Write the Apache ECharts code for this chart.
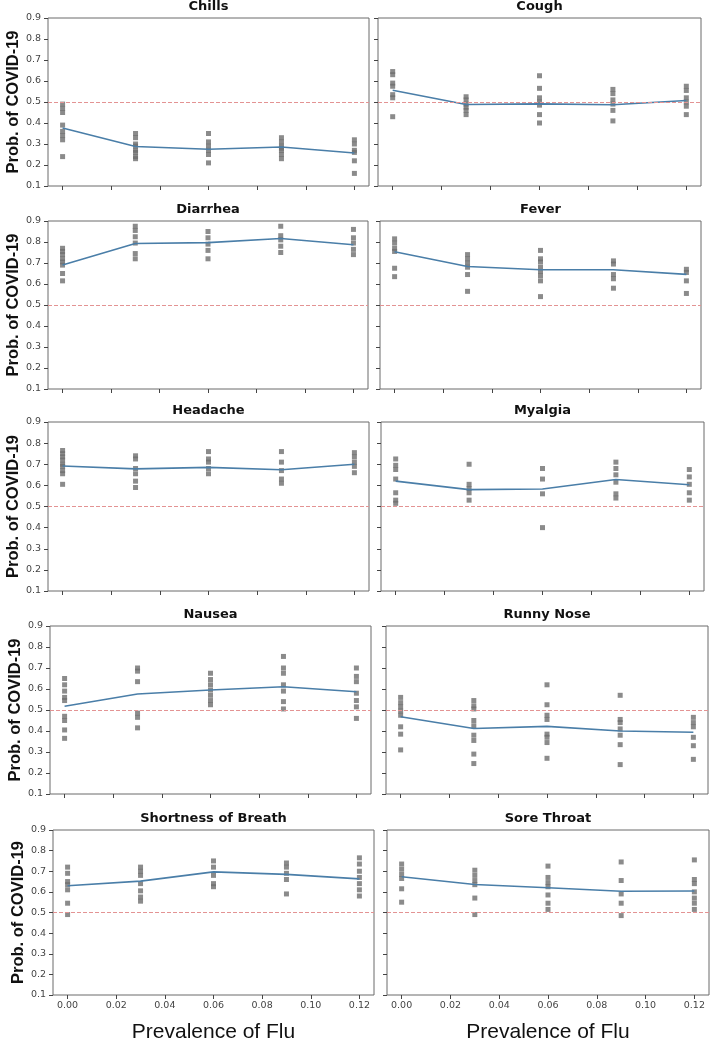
<!DOCTYPE html>
<html><head><meta charset="utf-8">
<script src="https://cdn.jsdelivr.net/npm/echarts@6/dist/echarts.min.js"></script>
<style>html,body{margin:0;padding:0;background:#fff}#c{width:716px;height:1044px}</style>
</head><body><div id="c"></div><script>
// ---------------- data ----------------
const xValues = [0, 0.03, 0.06, 0.09, 0.12];
const xTicks = [0, 0.02, 0.04, 0.06, 0.08, 0.10, 0.12];
const yMin = 0.1, yMax = 0.9, yStep = 0.1;
const threshold = 0.5;

const symptoms = ['Chills', 'Cough', 'Diarrhea', 'Fever', 'Headache', 'Myalgia', 'Nausea', 'Runny Nose', 'Shortness of Breath', 'Sore Throat'];

const chillsPoints = [[0.49, 0.47, 0.45, 0.39, 0.36, 0.34, 0.32, 0.24], [0.35, 0.33, 0.30, 0.29, 0.27, 0.26, 0.24, 0.23], [0.35, 0.31, 0.29, 0.27, 0.25, 0.21], [0.33, 0.31, 0.29, 0.28, 0.27, 0.25, 0.23], [0.32, 0.30, 0.27, 0.26, 0.22, 0.16]];
const chillsMean = [0.376, 0.288, 0.275, 0.286, 0.257];

const coughPoints = [[0.645, 0.63, 0.59, 0.575, 0.535, 0.52, 0.43], [0.525, 0.51, 0.49, 0.475, 0.46, 0.44], [0.625, 0.565, 0.52, 0.50, 0.485, 0.44, 0.40], [0.56, 0.54, 0.51, 0.49, 0.46, 0.41], [0.575, 0.555, 0.52, 0.50, 0.48, 0.44]];
const coughMean = [0.556, 0.488, 0.491, 0.487, 0.507];

const diarrheaPoints = [[0.77, 0.755, 0.74, 0.72, 0.705, 0.69, 0.65, 0.615], [0.875, 0.855, 0.825, 0.795, 0.745, 0.72], [0.85, 0.82, 0.79, 0.76, 0.72], [0.875, 0.83, 0.81, 0.78, 0.75], [0.86, 0.82, 0.795, 0.765, 0.74]];
const diarrheaMean = [0.69, 0.793, 0.797, 0.817, 0.787];

const feverPoints = [[0.815, 0.795, 0.77, 0.755, 0.675, 0.635], [0.74, 0.72, 0.70, 0.68, 0.645, 0.565], [0.76, 0.72, 0.705, 0.68, 0.66, 0.64, 0.615, 0.54], [0.71, 0.695, 0.645, 0.625, 0.58], [0.67, 0.655, 0.615, 0.555]];
const feverMean = [0.754, 0.683, 0.668, 0.668, 0.646];

const headachePoints = [[0.765, 0.75, 0.735, 0.72, 0.70, 0.69, 0.67, 0.655, 0.605], [0.74, 0.725, 0.68, 0.655, 0.62, 0.59], [0.76, 0.725, 0.71, 0.68, 0.655], [0.76, 0.71, 0.67, 0.63, 0.61], [0.755, 0.735, 0.71, 0.69, 0.66]];
const headacheMean = [0.692, 0.678, 0.685, 0.674, 0.70];

const myalgiaPoints = [[0.725, 0.695, 0.675, 0.63, 0.565, 0.53, 0.515], [0.70, 0.605, 0.585, 0.565, 0.53], [0.68, 0.63, 0.56, 0.40], [0.71, 0.68, 0.65, 0.615, 0.56, 0.54], [0.675, 0.64, 0.605, 0.565, 0.53]];
const myalgiaMean = [0.62, 0.58, 0.583, 0.628, 0.603];

const nauseaPoints = [[0.65, 0.62, 0.59, 0.56, 0.545, 0.47, 0.45, 0.405, 0.365], [0.70, 0.685, 0.635, 0.485, 0.465, 0.415], [0.675, 0.645, 0.62, 0.595, 0.57, 0.545, 0.525], [0.755, 0.70, 0.675, 0.62, 0.59, 0.54, 0.505], [0.70, 0.66, 0.635, 0.58, 0.545, 0.515, 0.46]];
const nauseaMean = [0.518, 0.576, 0.595, 0.611, 0.587];

const runnyNosePoints = [[0.56, 0.535, 0.515, 0.495, 0.475, 0.42, 0.385, 0.31], [0.545, 0.52, 0.505, 0.45, 0.425, 0.38, 0.355, 0.29, 0.245], [0.62, 0.525, 0.475, 0.455, 0.385, 0.37, 0.345, 0.27], [0.57, 0.455, 0.44, 0.41, 0.38, 0.335, 0.24], [0.465, 0.44, 0.42, 0.37, 0.33, 0.265]];
const runnyNoseMean = [0.468, 0.412, 0.422, 0.40, 0.394];

const breathPoints = [[0.72, 0.69, 0.65, 0.635, 0.61, 0.545, 0.49], [0.72, 0.70, 0.68, 0.64, 0.605, 0.575, 0.555], [0.75, 0.72, 0.68, 0.64, 0.625], [0.74, 0.72, 0.69, 0.66, 0.59], [0.765, 0.735, 0.70, 0.67, 0.64, 0.61, 0.58]];
const breathMean = [0.63, 0.652, 0.697, 0.685, 0.663];

const throatPoints = [[0.735, 0.71, 0.685, 0.665, 0.615, 0.55], [0.705, 0.68, 0.655, 0.635, 0.57, 0.49], [0.725, 0.67, 0.645, 0.625, 0.585, 0.545, 0.515], [0.745, 0.655, 0.59, 0.545, 0.485], [0.755, 0.66, 0.64, 0.60, 0.57, 0.545, 0.515]];
const throatMean = [0.673, 0.636, 0.62, 0.603, 0.604];

const allPoints = [chillsPoints, coughPoints, diarrheaPoints, feverPoints, headachePoints, myalgiaPoints, nauseaPoints, runnyNosePoints, breathPoints, throatPoints];
const allMeans = [chillsMean, coughMean, diarrheaMean, feverMean, headacheMean, myalgiaMean, nauseaMean, runnyNoseMean, breathMean, throatMean];

const yTitle = 'Prob. of COVID-19';
const xTitle = 'Prevalence of Flu';

// ---------------- layout ----------------
const rows = [
  {top: 18,  h: 168, left: [48, 321], right: [378, 323]},
  {top: 221, h: 168, left: [48, 320], right: [380, 321]},
  {top: 422, h: 169, left: [48, 321], right: [381, 323]},
  {top: 626, h: 168, left: [50, 321], right: [386, 322]},
  {top: 830, h: 169, left: [53, 321], right: [387, 322]}
];

const option = {animation: false, backgroundColor: '#fff', title: [], grid: [], xAxis: [], yAxis: [], series: []};

symptoms.forEach((name, i) => {
  const row = Math.floor(i / 2), col = i % 2;
  const R = rows[row];
  const [gl, gw] = col === 0 ? R.left : R.right;
  const isBottom = row === 4, isLeft = col === 0;
  option.grid.push({left: gl, top: R.top, width: gw, height: R.h, show: true, borderColor: '#6b6b6b', borderWidth: 1, backgroundColor: 'transparent'});
  option.title.push({text: name, left: gl + gw / 2, top: R.top - 18, textAlign: 'center', padding: 0,
    textStyle: {fontFamily: 'DejaVu Sans', fontWeight: 'bold', fontSize: 13, color: '#111'}});
  option.xAxis.push({
    type: 'value', gridIndex: i, min: -0.006, max: 0.126,
    axisLine: {show: false, onZero: false}, splitLine: {show: false},
    axisTick: {show: true, customValues: xTicks, length: 4, lineStyle: {color: '#444'}},
    axisLabel: {show: isBottom, customValues: xTicks, formatter: v => v.toFixed(2), fontFamily: 'DejaVu Sans', fontSize: 9.5, color: '#444', margin: 6},
    name: isBottom ? xTitle : '', nameLocation: 'middle', nameGap: 27,
    nameTextStyle: {fontFamily: 'Liberation Sans', fontSize: 21, color: '#111'}
  });
  option.yAxis.push({
    type: 'value', gridIndex: i, min: yMin, max: yMax, interval: yStep,
    axisLine: {show: false, onZero: false}, splitLine: {show: false},
    axisTick: {show: true, length: 4, lineStyle: {color: '#444'}},
    axisLabel: {show: isLeft, formatter: v => v.toFixed(1), fontFamily: 'DejaVu Sans', fontSize: 9.5, color: '#444', margin: 7},
    name: isLeft ? yTitle : '', nameLocation: 'middle', nameGap: 22, nameRotate: 90,
    nameTextStyle: {fontFamily: 'Liberation Sans', fontWeight: 'bold', fontSize: 16.5, color: '#111'}
  });
  const pts = [];
  allPoints[i].forEach((ys, k) => ys.forEach(y => pts.push([xValues[k], y])));
  option.series.push({type: 'scatter', xAxisIndex: i, yAxisIndex: i, data: pts, symbol: 'rect', symbolSize: 5,
    itemStyle: {color: '#6e6e6e'}, z: 3, silent: true});
  option.series.push({type: 'line', xAxisIndex: i, yAxisIndex: i, data: xValues.map((x, k) => [x, allMeans[i][k]]),
    symbol: 'none', showSymbol: false, lineStyle: {color: '#4a7ea8', width: 1.6}, z: 4, silent: true,
    markLine: {silent: true, symbol: 'none', label: {show: false}, lineStyle: {type: 'dashed', color: '#e39393', width: 1},
      data: [{yAxis: threshold}]}});
});

const chart = echarts.init(document.getElementById('c'), null, {renderer: 'canvas'});
chart.setOption(option);
</script></body></html>
